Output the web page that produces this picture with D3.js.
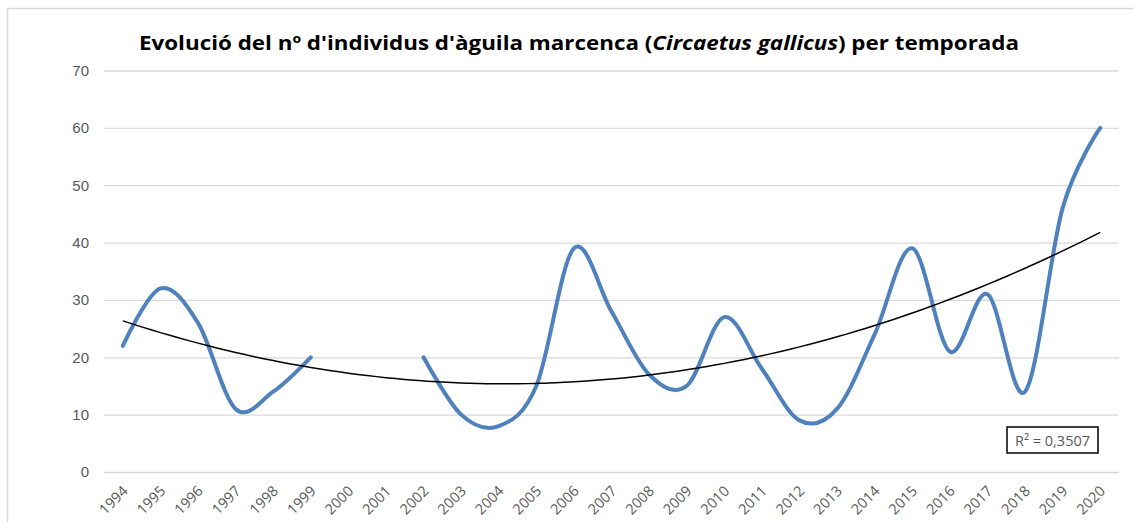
<!DOCTYPE html>
<html>
<head>
<meta charset="utf-8">
<script src="https://cdn.jsdelivr.net/npm/d3@7"></script>
<style>
  body { margin: 0; background: #fff; }
  svg { display: block; font-family: "Open Sans", "Liberation Sans", sans-serif; }
</style>
</head>
<body>
<div id="chart"></div>
<script>
const width = 1133;
const height = 522;

// data (null = no count that season)
const years = ["1994","1995","1996","1997","1998","1999","2000","2001","2002","2003",
  "2004","2005","2006","2007","2008","2009","2010","2011","2012","2013",
  "2014","2015","2016","2017","2018","2019","2020"];
const individuals = [22, 32, 26, 11, 14, 20, null, null, 20, 10,
  8, 15, 39, 28, 17, 15, 27, 18, 9, 11,
  24, 39, 21, 31, 14, 46, 60];
const yTicks = [0, 10, 20, 30, 40, 50, 60, 70];
const r2Label = "R² = 0,3507";

const margin = {left: 104, right: 14, top: 70, bottom: 50};

const svg = d3.select("#chart")
  .append("svg")
    .attr("width", width)
    .attr("height", height);

// chart border
svg.append("rect")
  .attr("x", 7.5).attr("y", 8.5)
  .attr("width", width + 20).attr("height", height + 20)
  .attr("fill", "none")
  .attr("stroke", "#d9d9d9")
  .attr("stroke-width", 1.5);

const x = d3.scaleBand()
  .domain(years)
  .range([margin.left, width - margin.right]);

const y = d3.scaleLinear()
  .domain([0, 70])
  .range([472, 70.5]);

/* ---------------- grid + y axis ---------------- */
const yAxis = d3.axisLeft(y)
  .tickValues(yTicks)
  .tickSize(-(x.range()[1] - x.range()[0]))
  .tickPadding(15);

svg.append("g")
  .attr("transform", `translate(${margin.left},0)`)
  .call(yAxis)
  .call(g => g.select(".domain").remove())
  .call(g => g.selectAll(".tick line").attr("stroke", "#d9d9d9").attr("stroke-width", 1.3))
  .call(g => g.selectAll(".tick text")
    .attr("fill", "#595959")
    .attr("font-size", 15));

/* ---------------- x labels (rotated) ---------------- */
svg.append("g")
  .selectAll("text")
  .data(years)
  .join("text")
    .attr("transform", d => `translate(${x(d) + x.bandwidth() / 2 + 6},${492}) rotate(-45)`)
    .attr("text-anchor", "end")
    .attr("fill", "#595959")
    .attr("font-size", 14.5)
    .text(d => d);

/* ---------------- series ---------------- */
const pts = years.map((d, i) => ({year: d, i: i, v: individuals[i]}));

const line = d3.line()
  .defined(d => d.v != null)
  .x(d => x(d.year) + x.bandwidth() / 2)
  .y(d => y(d.v))
  .curve(d3.curveCardinal.tension(0));

svg.append("path")
  .datum(pts)
  .attr("d", line)
  .attr("fill", "none")
  .attr("stroke", "#4f81bd")
  .attr("stroke-width", 4)
  .attr("stroke-linecap", "round");

/* ---------------- polynomial (order 2) trendline ---------------- */
// least squares on category index 1..n, like the spreadsheet does
function polyFit(data) {
  let s = [0, 0, 0, 0, 0], t = [0, 0, 0];
  data.forEach(d => {
    const xi = d.i + 1;
    for (let k = 0; k < 5; k++) s[k] += Math.pow(xi, k);
    for (let k = 0; k < 3; k++) t[k] += d.v * Math.pow(xi, k);
  });
  // solve 3x3 normal equations
  const A = [[s[0], s[1], s[2], t[0]], [s[1], s[2], s[3], t[1]], [s[2], s[3], s[4], t[2]]];
  for (let c = 0; c < 3; c++) {
    for (let r = c + 1; r < 3; r++) {
      const f = A[r][c] / A[c][c];
      for (let k = c; k < 4; k++) A[r][k] -= f * A[c][k];
    }
  }
  const b = [0, 0, 0];
  for (let r = 2; r >= 0; r--) {
    let sum = A[r][3];
    for (let k = r + 1; k < 3; k++) sum -= A[r][k] * b[k];
    b[r] = sum / A[r][r];
  }
  return b;
}

const coef = polyFit(pts.filter(d => d.v != null));
const step = x.step();
const x0 = x(years[0]) + x.bandwidth() / 2;
const trendPts = d3.range(0, years.length - 1 + 0.001, 0.25).map(t => {
  const xi = t + 1;
  return [x0 + t * step, y(coef[0] + coef[1] * xi + coef[2] * xi * xi)];
});

svg.append("path")
  .attr("d", d3.line().curve(d3.curveMonotoneX)(trendPts))
  .attr("fill", "none")
  .attr("stroke", "#000")
  .attr("stroke-width", 1.5);

/* ---------------- R² label ---------------- */
const r2 = svg.append("g").attr("transform", "translate(1007,427)");
r2.append("rect")
  .attr("width", 91).attr("height", 26)
  .attr("fill", "#fff")
  .attr("stroke", "#000")
  .attr("stroke-width", 1.5);
r2.append("text")
  .attr("x", 45.5).attr("y", 18.5)
  .attr("text-anchor", "middle")
  .attr("fill", "#595959")
  .attr("font-size", 14.5)
  .text(r2Label);

/* ---------------- title ---------------- */
const title = svg.append("text")
  .attr("x", 579).attr("y", 50)
  .attr("text-anchor", "middle")
  .attr("font-size", 20)
  .attr("font-weight", "bold")
  .attr("fill", "#000")
  .attr("textLength", 880)
  .attr("lengthAdjust", "spacingAndGlyphs");
title.append("tspan").text("Evolució del nº d'individus d'àguila marcenca (");
title.append("tspan").attr("font-style", "italic").text("Circaetus gallicus");
title.append("tspan").text(") per temporada");
</script>
</body>
</html>
